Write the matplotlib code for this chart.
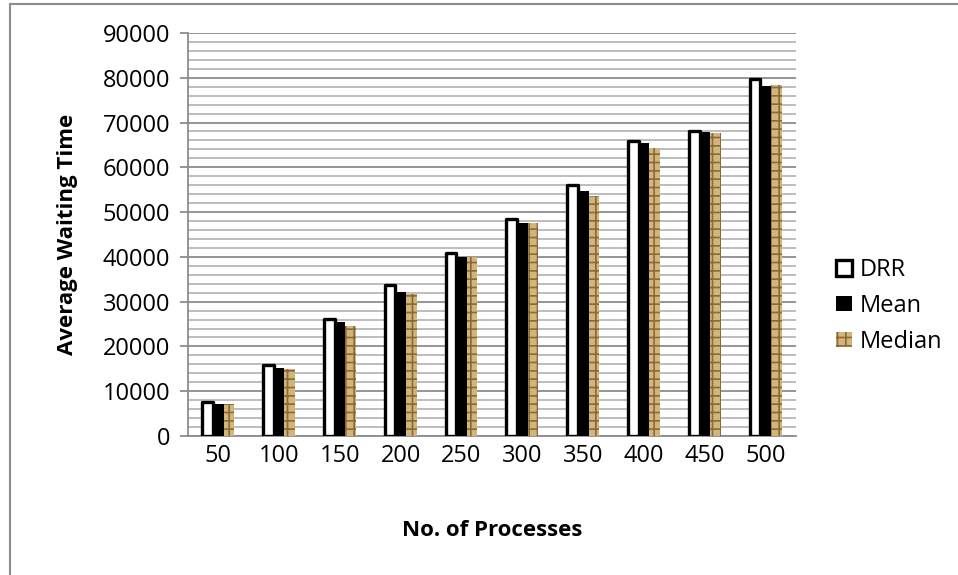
import numpy as np
import matplotlib.pyplot as plt
from matplotlib.lines import Line2D

plt.rcParams['font.family'] = ['Open Sans', 'DejaVu Sans']
plt.rcParams['hatch.linewidth'] = 1.2

processes = ['50', '100', '150', '200', '250', '300', '350', '400', '450', '500']
drr = [7600, 15900, 26100, 33700, 40800, 48400, 56100, 65900, 68100, 79800]
mean = [7100, 15200, 25500, 32200, 40000, 47600, 54700, 65400, 67800, 78200]
median = [7100, 14900, 24600, 31700, 39900, 47500, 53700, 64300, 67600, 78400]

x = np.arange(len(processes))
w = 0.175

fig = plt.figure(figsize=(9.58, 5.75), dpi=100)
ax = fig.add_axes([0.196, 0.2417, 0.635, 0.701])

# grafico
ax.bar(x - w, drr, w, facecolor='white', edgecolor='black', linewidth=2.4,
       joinstyle='round', label='DRR', zorder=3)
ax.bar(x, mean, w, color='black', label='Mean', zorder=3)
ax.bar(x + w, median, w, facecolor='#d2b57a', edgecolor='#8a6a38', hatch='++',
       linewidth=0, label='Median', zorder=3)

ax.set_xlim(-0.5, len(processes) - 0.5)
ax.set_ylim(0, 90000)
ax.set_yticks(np.arange(0, 90001, 10000))
ax.set_yticks(np.arange(0, 90001, 2000), minor=True)
ax.grid(axis='y', which='major', color='#8c8c8c', linewidth=1.3, zorder=0)
ax.grid(axis='y', which='minor', color='#b8b8b8', linewidth=1.3, zorder=0)
ax.set_axisbelow(True)

ax.set_xticks(x)
ax.set_xticklabels(processes)
ax.tick_params(axis='x', length=0, pad=6, labelsize=17)
ax.tick_params(axis='y', which='major', length=5.5, width=1.3, color='#8c8c8c',
               pad=7, labelsize=17)
ax.tick_params(axis='y', which='minor', length=0)

for s in ['top', 'right']:
    ax.spines[s].set_visible(False)
for s in ['left', 'bottom']:
    ax.spines[s].set_color('#8c8c8c')
    ax.spines[s].set_linewidth(1.3)

#legenda
ax.set_xlabel('No. of Processes', fontweight='bold', fontsize=16, labelpad=37)
ax.set_ylabel('Average Waiting Time', fontweight='bold', fontsize=16, labelpad=18)
ax.legend(loc='center left', bbox_to_anchor=(0.873, 0.468), bbox_transform=fig.transFigure,
          frameon=False, handlelength=0.65, handleheight=0.65, handletextpad=0.35,
          labelspacing=0.5, fontsize=17, borderaxespad=0, borderpad=0)

# borda
fig.add_artist(Line2D([10 / 958, 10 / 958], [0, 1 - 4 / 575], color='#8c8c8c', linewidth=1.5))
fig.add_artist(Line2D([10 / 958, 1], [1 - 4 / 575, 1 - 4 / 575], color='#8c8c8c', linewidth=1.5))

fig.savefig('out.png', dpi=100)
